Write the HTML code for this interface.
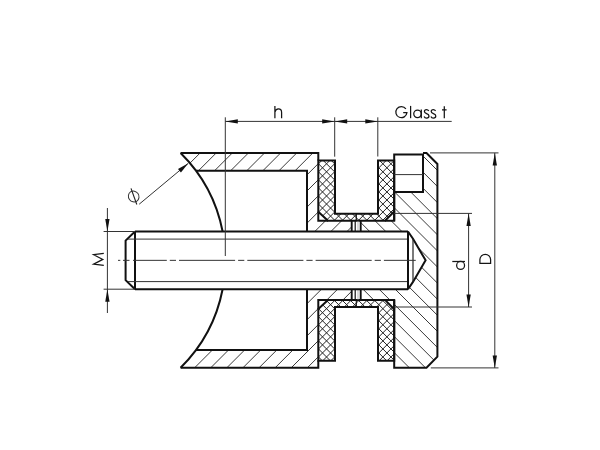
<!DOCTYPE html><html><head><meta charset="utf-8"><style>html,body{margin:0;padding:0;background:#fff;}svg{display:block;}</style></head><body><svg width="600" height="450" viewBox="0 0 600 450"><defs><clipPath id="c1"><path d="M180.59,153.00L318.3,153.00L318.3,220.80L351.7,220.80L351.7,231.50L307.0,231.50L307.0,170.80L195.98,170.80A151.0,151.0 0 0 0 180.59,153.00Z"/></clipPath><clipPath id="c2"><path d="M180.59,367.70L318.3,367.70L318.3,299.90L351.7,299.90L351.7,289.20L307.0,289.20L307.0,349.90L195.98,349.90A151.0,151.0 0 0 1 180.59,367.70Z"/></clipPath><clipPath id="c3"><path d="M360.7,220.8L394.2,220.8L394.2,192L423,192L423,153L426.5,153L437.4,164L437.4,356.70000000000005L426.5,367.70000000000005L394.2,367.70000000000005L394.2,299.90000000000003L360.7,299.90000000000003L360.7,289.20000000000005L408.0,289.20000000000005L413,281.90000000000003L425.6,260.35L413,238.8L408.0,231.5L360.7,231.5Z"/></clipPath><clipPath id="c4"><path d="M318.30,160.40L335.00,160.40L335.00,213.70L378.00,213.70L378.00,160.40L394.20,160.40L394.20,211.50L385.00,220.80L328.00,220.80L318.30,211.80Z"/></clipPath><clipPath id="c5"><path d="M318.30,360.80L335.00,360.80L335.00,307.00L378.00,307.00L378.00,360.80L394.20,360.80L394.20,309.20L385.00,299.90L328.00,299.90L318.30,308.90Z"/></clipPath></defs><rect width="600" height="450" fill="#fff"/>
<g clip-path="url(#c1)"><path d="M83.90,237.00L172.90,148.00M100.00,237.00L189.00,148.00M116.10,237.00L205.10,148.00M132.20,237.00L221.20,148.00M148.30,237.00L237.30,148.00M164.40,237.00L253.40,148.00M180.50,237.00L269.50,148.00M196.60,237.00L285.60,148.00M212.70,237.00L301.70,148.00M228.80,237.00L317.80,148.00M244.90,237.00L333.90,148.00M261.00,237.00L350.00,148.00M277.10,237.00L366.10,148.00M293.20,237.00L382.20,148.00M309.30,237.00L398.30,148.00M325.40,237.00L414.40,148.00M341.50,237.00L430.50,148.00M357.60,237.00L446.60,148.00" stroke="#222" stroke-width="0.9" fill="none"/></g>
<g clip-path="url(#c2)"><path d="M75.70,374.00L166.70,283.00M91.80,374.00L182.80,283.00M107.90,374.00L198.90,283.00M124.00,374.00L215.00,283.00M140.10,374.00L231.10,283.00M156.20,374.00L247.20,283.00M172.30,374.00L263.30,283.00M188.40,374.00L279.40,283.00M204.50,374.00L295.50,283.00M220.60,374.00L311.60,283.00M236.70,374.00L327.70,283.00M252.80,374.00L343.80,283.00M268.90,374.00L359.90,283.00M285.00,374.00L376.00,283.00M301.10,374.00L392.10,283.00M317.20,374.00L408.20,283.00M333.30,374.00L424.30,283.00M349.40,374.00L440.40,283.00" stroke="#222" stroke-width="0.9" fill="none"/></g>
<g clip-path="url(#c3)"><path d="M125.20,148.00L351.20,374.00M141.30,148.00L367.30,374.00M157.40,148.00L383.40,374.00M173.50,148.00L399.50,374.00M189.60,148.00L415.60,374.00M205.70,148.00L431.70,374.00M221.80,148.00L447.80,374.00M237.90,148.00L463.90,374.00M254.00,148.00L480.00,374.00M270.10,148.00L496.10,374.00M286.20,148.00L512.20,374.00M302.30,148.00L528.30,374.00M318.40,148.00L544.40,374.00M334.50,148.00L560.50,374.00M350.60,148.00L576.60,374.00M366.70,148.00L592.70,374.00M382.80,148.00L608.80,374.00M398.90,148.00L624.90,374.00M415.00,148.00L641.00,374.00M431.10,148.00L657.10,374.00" stroke="#222" stroke-width="0.9" fill="none"/></g>
<g clip-path="url(#c4)"><path d="M241.15,225.00L310.15,156.00M249.20,225.00L318.20,156.00M257.25,225.00L326.25,156.00M265.30,225.00L334.30,156.00M273.35,225.00L342.35,156.00M281.40,225.00L350.40,156.00M289.45,225.00L358.45,156.00M297.50,225.00L366.50,156.00M305.55,225.00L374.55,156.00M313.60,225.00L382.60,156.00M321.65,225.00L390.65,156.00M329.70,225.00L398.70,156.00M337.75,225.00L406.75,156.00M345.80,225.00L414.80,156.00M353.85,225.00L422.85,156.00M361.90,225.00L430.90,156.00M369.95,225.00L438.95,156.00M378.00,225.00L447.00,156.00M386.05,225.00L455.05,156.00M394.10,225.00L463.10,156.00" stroke="#222" stroke-width="1.0" fill="none"/><path d="M246.30,156.00L315.30,225.00M254.35,156.00L323.35,225.00M262.40,156.00L331.40,225.00M270.45,156.00L339.45,225.00M278.50,156.00L347.50,225.00M286.55,156.00L355.55,225.00M294.60,156.00L363.60,225.00M302.65,156.00L371.65,225.00M310.70,156.00L379.70,225.00M318.75,156.00L387.75,225.00M326.80,156.00L395.80,225.00M334.85,156.00L403.85,225.00M342.90,156.00L411.90,225.00M350.95,156.00L419.95,225.00M359.00,156.00L428.00,225.00M367.05,156.00L436.05,225.00M375.10,156.00L444.10,225.00M383.15,156.00L452.15,225.00M391.20,156.00L460.20,225.00" stroke="#222" stroke-width="1.0" fill="none"/></g>
<g clip-path="url(#c5)"><path d="M247.05,364.00L316.05,295.00M255.10,364.00L324.10,295.00M263.15,364.00L332.15,295.00M271.20,364.00L340.20,295.00M279.25,364.00L348.25,295.00M287.30,364.00L356.30,295.00M295.35,364.00L364.35,295.00M303.40,364.00L372.40,295.00M311.45,364.00L380.45,295.00M319.50,364.00L388.50,295.00M327.55,364.00L396.55,295.00M335.60,364.00L404.60,295.00M343.65,364.00L412.65,295.00M351.70,364.00L420.70,295.00M359.75,364.00L428.75,295.00M367.80,364.00L436.80,295.00M375.85,364.00L444.85,295.00M383.90,364.00L452.90,295.00M391.95,364.00L460.95,295.00" stroke="#222" stroke-width="1.0" fill="none"/><path d="M240.40,295.00L309.40,364.00M248.45,295.00L317.45,364.00M256.50,295.00L325.50,364.00M264.55,295.00L333.55,364.00M272.60,295.00L341.60,364.00M280.65,295.00L349.65,364.00M288.70,295.00L357.70,364.00M296.75,295.00L365.75,364.00M304.80,295.00L373.80,364.00M312.85,295.00L381.85,364.00M320.90,295.00L389.90,364.00M328.95,295.00L397.95,364.00M337.00,295.00L406.00,364.00M345.05,295.00L414.05,364.00M353.10,295.00L422.10,364.00M361.15,295.00L430.15,364.00M369.20,295.00L438.20,364.00M377.25,295.00L446.25,364.00M385.30,295.00L454.30,364.00M393.35,295.00L462.35,364.00" stroke="#222" stroke-width="1.0" fill="none"/></g>
<path d="M180.59,153.00L318.3,153.00L318.3,160.40" stroke="#111" stroke-width="2.0" fill="none" stroke-linejoin="miter" />
<path d="M195.98,170.80L307.0,170.80L307.0,231.50" stroke="#111" stroke-width="2.0" fill="none" stroke-linejoin="miter" />
<path d="M180.59,153.00A151.0,151.0 0 0 1 222.62,231.50" stroke="#111" stroke-width="2.0" fill="none" stroke-linejoin="miter" />
<path d="M318.30,160.40L335.00,160.40L335.00,213.70L378.00,213.70L378.00,160.40L394.20,160.40L394.20,211.50L385.00,220.80L328.00,220.80L318.30,211.80Z" stroke="#111" stroke-width="2.0" fill="none" stroke-linejoin="miter" />
<path d="M318.3,211.8L318.3,220.8L328,220.8" stroke="#111" stroke-width="2.0" fill="none" stroke-linejoin="miter" />
<path d="M394.2,211.5L394.2,220.8L385,220.8" stroke="#111" stroke-width="2.0" fill="none" stroke-linejoin="miter" />
<path d="M351.7,220.8L351.7,231.5M360.7,220.8L360.7,231.5" stroke="#111" stroke-width="1.9" fill="none" stroke-linejoin="miter" />
<path d="M355.2,231.5L355.2,220.8L356.3,219.8L356.3,213.7" stroke="#111" stroke-width="1.2" fill="none" stroke-linejoin="miter" />
<path d="M358,220.8L358,231.5" stroke="#999" stroke-width="0.7" fill="none" stroke-linejoin="miter" />
<path d="M180.59,367.70L318.3,367.70L318.3,360.30" stroke="#111" stroke-width="2.0" fill="none" stroke-linejoin="miter" />
<path d="M195.98,349.90L307.0,349.90L307.0,289.20" stroke="#111" stroke-width="2.0" fill="none" stroke-linejoin="miter" />
<path d="M180.59,367.70A151.0,151.0 0 0 0 222.62,289.20" stroke="#111" stroke-width="2.0" fill="none" stroke-linejoin="miter" />
<path d="M318.30,360.80L335.00,360.80L335.00,307.00L378.00,307.00L378.00,360.80L394.20,360.80L394.20,309.20L385.00,299.90L328.00,299.90L318.30,308.90Z" stroke="#111" stroke-width="2.0" fill="none" stroke-linejoin="miter" />
<path d="M318.3,308.90000000000003L318.3,299.90000000000003L328,299.90000000000003" stroke="#111" stroke-width="2.0" fill="none" stroke-linejoin="miter" />
<path d="M394.2,309.20000000000005L394.2,299.90000000000003L385,299.90000000000003" stroke="#111" stroke-width="2.0" fill="none" stroke-linejoin="miter" />
<path d="M351.7,299.90000000000003L351.7,289.20000000000005M360.7,299.90000000000003L360.7,289.20000000000005" stroke="#111" stroke-width="1.9" fill="none" stroke-linejoin="miter" />
<path d="M355.2,289.20000000000005L355.2,299.90000000000003L356.3,300.90000000000003L356.3,307.00000000000006" stroke="#111" stroke-width="1.2" fill="none" stroke-linejoin="miter" />
<path d="M358,299.90000000000003L358,289.20000000000005" stroke="#999" stroke-width="0.7" fill="none" stroke-linejoin="miter" />
<path d="M423,153L426.5,153L437.4,164L437.4,356.70000000000005L426.5,367.70000000000005L394.2,367.70000000000005L394.2,299.90000000000003" stroke="#111" stroke-width="2.0" fill="none" stroke-linejoin="miter" />
<path d="M394.2,220.8L394.2,192" stroke="#111" stroke-width="2.0" fill="none" stroke-linejoin="miter" />
<path d="M394.2,154.5L423,154.5L423,192L394.2,192Z" stroke="#111" stroke-width="2.0" fill="none" stroke-linejoin="miter" />
<path d="M394.2,174.6L423,174.6" stroke="#333" stroke-width="1.0" fill="none" stroke-linejoin="miter" />
<path d="M135,231.5L408.0,231.5M135,289.20000000000005L408.0,289.20000000000005" stroke="#111" stroke-width="2.0" fill="none" stroke-linejoin="miter" />
<path d="M135,231.5L135,289.20000000000005" stroke="#111" stroke-width="2.0" fill="none" stroke-linejoin="miter" />
<path d="M135,231.5L125.6,240.6L125.6,280.1L135,289.20000000000005" stroke="#111" stroke-width="2.0" fill="none" stroke-linejoin="miter" />
<path d="M128,239.1L408.0,239.1M128,281.6L408.0,281.6" stroke="#333" stroke-width="1.0" fill="none" stroke-linejoin="miter" />
<path d="M408.0,231.5L408.0,289.20000000000005" stroke="#111" stroke-width="2.0" fill="none" stroke-linejoin="miter" />
<path d="M408.0,231.5L413,238.8L425.6,260.35L413,281.90000000000003L408.0,289.20000000000005" stroke="#111" stroke-width="2.0" fill="none" stroke-linejoin="miter" />
<path d="M413,238.8L413,281.90000000000003" stroke="#222" stroke-width="1.2" fill="none" stroke-linejoin="miter" />
<path d="M118.00,260.35L120.30,260.35M123.00,260.35L129.50,260.35M133.00,260.35L166.80,260.35M169.80,260.35L176.00,260.35M179.00,260.35L235.10,260.35M238.10,260.35L244.30,260.35M247.30,260.35L303.40,260.35M306.40,260.35L312.60,260.35M315.60,260.35L371.70,260.35M374.70,260.35L380.90,260.35M383.90,260.35L415.75,260.35" stroke="#333" stroke-width="1.0" fill="none" stroke-linejoin="miter" />
<path d="M225.3,117.3L225.3,256" stroke="#333" stroke-width="1.0" fill="none" stroke-linejoin="miter" />
<path d="M334.7,117.3L334.7,156.7" stroke="#333" stroke-width="1.0" fill="none" stroke-linejoin="miter" />
<path d="M377.8,117.3L377.8,156.5" stroke="#333" stroke-width="1.0" fill="none" stroke-linejoin="miter" />
<path d="M225.3,121.4L451.7,121.4" stroke="#333" stroke-width="1.0" fill="none" stroke-linejoin="miter" />
<path d="M225.30,121.40L237.80,119.25L237.80,123.55Z" fill="#111"/>
<path d="M334.70,121.40L322.20,123.55L322.20,119.25Z" fill="#111"/>
<path d="M334.70,121.40L347.20,119.25L347.20,123.55Z" fill="#111"/>
<path d="M377.80,121.40L365.30,123.55L365.30,119.25Z" fill="#111"/>
<path d="M107.4,208L107.4,313" stroke="#333" stroke-width="1.0" fill="none" stroke-linejoin="miter" />
<path d="M103.6,231.5L135,231.5M103.6,289.20000000000005L135,289.20000000000005" stroke="#333" stroke-width="1.0" fill="none" stroke-linejoin="miter" />
<path d="M107.40,231.50L105.25,219.00L109.55,219.00Z" fill="#111"/>
<path d="M107.40,289.20L109.55,301.70L105.25,301.70Z" fill="#111"/>
<path d="M394,213.4L472,213.4M394,307L472,307" stroke="#333" stroke-width="1.0" fill="none" stroke-linejoin="miter" />
<path d="M468.6,213.4L468.6,307" stroke="#333" stroke-width="1.0" fill="none" stroke-linejoin="miter" />
<path d="M468.60,213.40L470.75,225.90L466.45,225.90Z" fill="#111"/>
<path d="M468.60,307.00L466.45,294.50L470.75,294.50Z" fill="#111"/>
<path d="M430,152.9L498.5,152.9M430.8,367.9L498.5,367.9" stroke="#333" stroke-width="1.0" fill="none" stroke-linejoin="miter" />
<path d="M494.8,152.9L494.8,367.9" stroke="#333" stroke-width="1.0" fill="none" stroke-linejoin="miter" />
<path d="M494.80,152.90L496.95,165.40L492.65,165.40Z" fill="#111"/>
<path d="M494.80,367.90L492.65,355.40L496.95,355.40Z" fill="#111"/>
<path d="M139.2,204.2L188.3,163.3" stroke="#333" stroke-width="1.0" fill="none" stroke-linejoin="miter" />
<path d="M188.30,163.30L180.94,172.43L177.99,168.89Z" fill="#111"/>
<g transform="translate(133.7,196.5) rotate(-35)"><ellipse cx="0" cy="0" rx="5.2" ry="5.6" stroke="#333" stroke-width="1" fill="none"/></g>
<path d="M131,188.4L136.8,204.5" stroke="#222" stroke-width="1.1" fill="none" stroke-linejoin="miter" />
<path d="M274.9,105.9V118.2M274.9,112.2C275.5,109.9 277,108.9 278.4,108.9C280.4,108.9 281.6,110.2 281.6,112.4V118.2" stroke="#151515" stroke-width="1.25" fill="none" stroke-linejoin="miter" stroke-linecap="butt"/>
<path d="M103.8,265.4L93.6,264.2L102.8,259.4L93.6,254.7L103.8,253.3" stroke="#151515" stroke-width="1.25" fill="none" stroke-linejoin="miter" stroke-linecap="butt"/>
<path d="M452.3,261.5H465" stroke="#151515" stroke-width="1.25" fill="none" stroke-linejoin="miter" stroke-linecap="butt"/>
<circle cx="460.6" cy="265.4" r="3.95" stroke="#151515" stroke-width="1.25" fill="none"/>
<path d="M479.9,263.3H490.6V259.6A5.35,5.35 0 0 0 479.9,259.6Z" stroke="#151515" stroke-width="1.25" fill="none" stroke-linejoin="miter" stroke-linecap="butt"/>
<path d="M405.89,108.84A5.55,5.55 0 1 0 406.92,112.68H403.2" stroke="#151515" stroke-width="1.25" fill="none" stroke-linejoin="miter" stroke-linecap="butt"/>
<path d="M410.6,105.9V118.2" stroke="#151515" stroke-width="1.25" fill="none" stroke-linejoin="miter" stroke-linecap="butt"/>
<circle cx="417.5" cy="113.85" r="3.75" stroke="#151515" stroke-width="1.25" fill="none"/>
<path d="M421.3,109.5V118.2" stroke="#151515" stroke-width="1.25" fill="none" stroke-linejoin="miter" stroke-linecap="butt"/>
<path d="M428.80,110.9C428.20,110 427.40,109.6 426.50,109.6C425.20,109.6 424.40,110.4 424.40,111.5C424.40,112.8 425.60,113.3 426.60,113.7C427.90,114.2 429.00,114.7 429.00,116.1C429.00,117.4 427.90,118.1 426.60,118.1C425.40,118.1 424.50,117.5 424.10,116.5" stroke="#151515" stroke-width="1.25" fill="none" stroke-linejoin="miter" stroke-linecap="butt"/>
<path d="M435.60,110.9C435.00,110 434.20,109.6 433.30,109.6C432.00,109.6 431.20,110.4 431.20,111.5C431.20,112.8 432.40,113.3 433.40,113.7C434.70,114.2 435.80,114.7 435.80,116.1C435.80,117.4 434.70,118.1 433.40,118.1C432.20,118.1 431.30,117.5 430.90,116.5" stroke="#151515" stroke-width="1.25" fill="none" stroke-linejoin="miter" stroke-linecap="butt"/>
<path d="M444.3,106.2V118.2M442,109.8H446.6" stroke="#151515" stroke-width="1.25" fill="none" stroke-linejoin="miter" stroke-linecap="butt"/></svg></body></html>
